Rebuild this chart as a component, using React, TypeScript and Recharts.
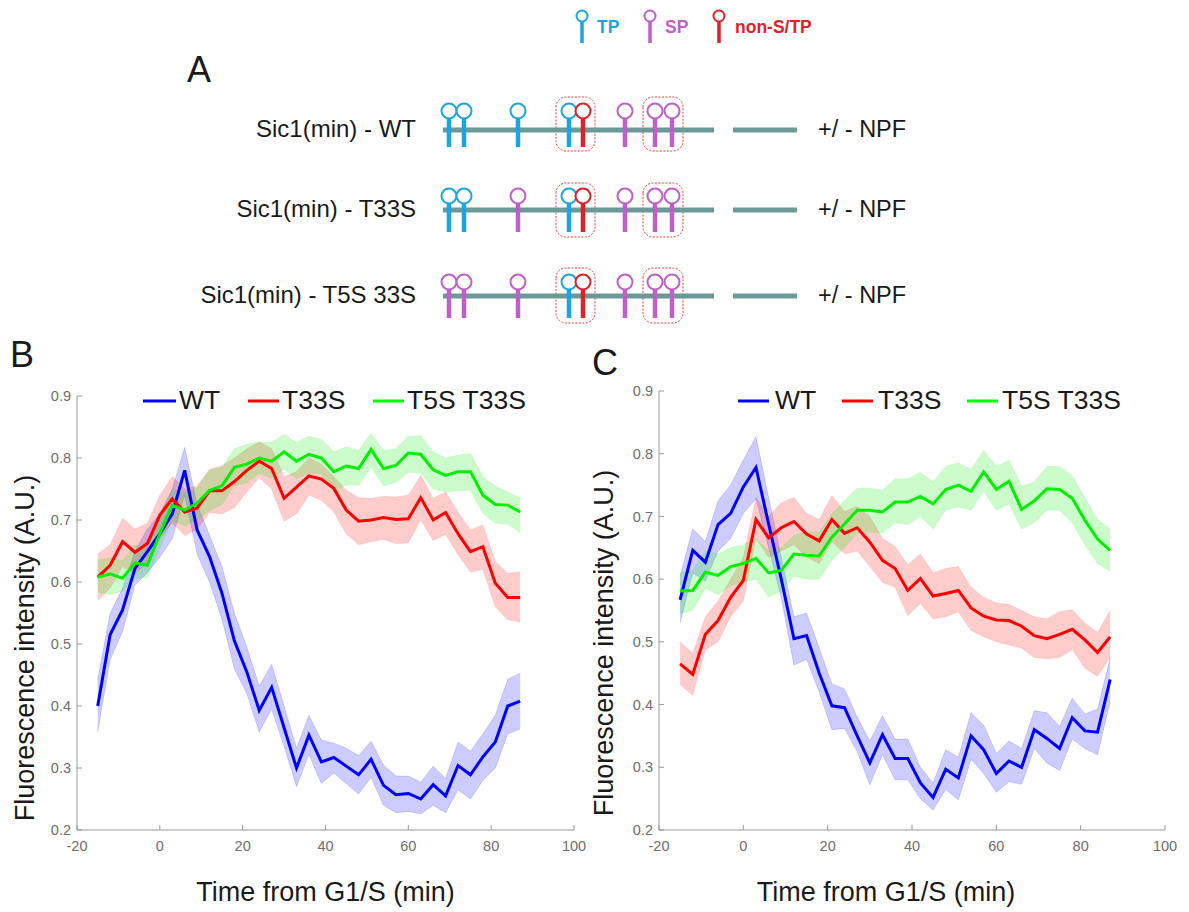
import React from "react";
import { ComposedChart, ScatterChart, Scatter, Line, Area, XAxis, YAxis, Legend, ReferenceLine, ReferenceArea } from "recharts";

const times = [-15,-12,-9,-6,-3,0,3,6,9,12,15,18,21,24,27,30,33,36,39,42,45,48,51,54,57,60,63,66,69,72,75,78,81,84,87];
const xTicks = [-20,0,20,40,60,80,100];
const yTicks = [0.2,0.3,0.4,0.5,0.6,0.7,0.8,0.9];

// Panel B
const bWt = [.40,.515,.555,.622,.649,.678,.71,.78,.684,.641,.582,.505,.455,.393,.43,.365,.30,.353,.31,.317,.303,.289,.314,.272,.257,.259,.25,.273,.255,.304,.289,.318,.342,.40,.408];
const bWtLo = [.358,.475,.52,.595,.615,.64,.67,.74,.645,.60,.54,.46,.42,.358,.395,.335,.27,.322,.275,.292,.275,.258,.285,.24,.228,.23,.226,.24,.228,.265,.25,.28,.30,.355,.363];
const bWtHi = [.442,.55,.59,.65,.685,.71,.75,.817,.725,.675,.625,.55,.495,.432,.467,.40,.332,.385,.345,.34,.332,.32,.343,.305,.287,.287,.277,.303,.283,.342,.327,.355,.385,.443,.453];
const bRed = [.608,.627,.665,.648,.662,.708,.734,.713,.719,.747,.747,.762,.78,.795,.783,.735,.753,.771,.766,.751,.716,.698,.70,.704,.701,.702,.736,.70,.712,.678,.649,.657,.598,.575,.575];
const bRedLo = [.57,.59,.625,.615,.63,.67,.695,.675,.685,.712,.71,.72,.745,.768,.75,.698,.71,.74,.732,.713,.678,.66,.665,.669,.662,.663,.70,.667,.677,.644,.616,.62,.56,.539,.535];
const bRedHi = [.645,.66,.703,.685,.695,.74,.77,.75,.755,.782,.787,.80,.815,.826,.815,.77,.778,.80,.79,.77,.748,.736,.735,.738,.737,.74,.772,.735,.745,.713,.684,.692,.633,.614,.616];
const bGreen = [.608,.613,.606,.631,.627,.678,.724,.716,.727,.748,.755,.785,.79,.80,.795,.81,.795,.806,.80,.778,.787,.783,.814,.783,.788,.808,.806,.781,.772,.778,.778,.74,.725,.724,.713];
const bGreenLo = [.583,.58,.585,.607,.607,.655,.70,.69,.70,.715,.725,.755,.76,.775,.767,.782,.767,.775,.775,.745,.757,.756,.785,.755,.76,.777,.776,.75,.745,.747,.748,.71,.695,.693,.68];
const bGreenHi = [.635,.64,.635,.66,.655,.705,.75,.745,.752,.78,.785,.815,.822,.826,.825,.838,.825,.835,.83,.81,.818,.812,.84,.812,.815,.835,.836,.81,.80,.805,.807,.77,.755,.745,.735];

// Panel C
const cWt = [.567,.646,.627,.687,.705,.747,.778,.688,.60,.505,.51,.45,.398,.395,.35,.307,.352,.314,.314,.275,.252,.297,.283,.35,.328,.29,.31,.30,.36,.346,.33,.379,.358,.356,.44];
const cWtLo = [.53,.61,.597,.645,.665,.705,.728,.65,.57,.463,.472,.42,.36,.362,.325,.272,.32,.28,.28,.25,.232,.265,.248,.313,.29,.26,.277,.273,.33,.307,.295,.345,.33,.32,.405];
const cWtHi = [.605,.68,.66,.725,.75,.79,.827,.73,.635,.54,.546,.49,.433,.425,.38,.342,.382,.345,.345,.30,.275,.328,.316,.387,.367,.322,.342,.33,.39,.387,.365,.41,.385,.393,.475];
const cRed = [.465,.448,.512,.534,.571,.598,.695,.666,.682,.692,.672,.661,.695,.673,.682,.659,.63,.617,.582,.601,.573,.577,.582,.554,.541,.535,.534,.525,.51,.505,.512,.52,.503,.483,.508];
const cRedLo = [.432,.415,.487,.50,.54,.565,.665,.635,.645,.655,.635,.625,.66,.64,.645,.62,.595,.587,.542,.561,.537,.54,.548,.518,.508,.50,.495,.49,.475,.473,.475,.488,.458,.445,.475];
const cRedHi = [.50,.482,.54,.565,.60,.635,.73,.70,.722,.73,.705,.695,.733,.708,.716,.70,.665,.652,.623,.64,.61,.617,.62,.587,.571,.562,.56,.55,.54,.537,.548,.551,.53,.515,.55];
const cGreen = [.581,.582,.611,.606,.62,.625,.633,.61,.614,.64,.638,.637,.667,.688,.71,.71,.707,.723,.723,.732,.72,.743,.75,.74,.771,.743,.756,.711,.725,.744,.743,.729,.694,.664,.646];
const cGreenLo = [.545,.55,.585,.575,.59,.595,.60,.572,.58,.605,.60,.60,.63,.65,.673,.675,.673,.69,.687,.70,.68,.71,.715,.71,.74,.71,.72,.68,.69,.71,.71,.69,.655,.625,.612];
const cGreenHi = [.61,.613,.645,.64,.65,.655,.665,.645,.65,.67,.675,.675,.705,.725,.745,.745,.742,.76,.76,.77,.755,.78,.785,.775,.805,.78,.79,.748,.755,.78,.78,.765,.73,.695,.68];

// Panel A schematic: site positions along the construct, one lane per construct
const laneNames = ["Sic1(min) - WT", "Sic1(min) - T33S", "Sic1(min) - T5S 33S"];
const trackLanes = [130, 210, 296];
const headLanes = [111, 196, 282];
const boxTops = [97, 183, 268];
const boxBottoms = [151, 237, 323];
const sites = [449, 464, 518, 569, 583, 625, 655, 672];
const laneTypes = [
  ["TP","TP","TP","TP","non","SP","SP","SP"],
  ["TP","TP","SP","TP","non","SP","SP","SP"],
  ["SP","SP","SP","TP","non","SP","SP","SP"],
];
const keySites = [{ x: 582, y: 16 }];
const keySP = [{ x: 650, y: 16 }];
const keyNon = [{ x: 719, y: 16 }];

const BLUE = "#0000ff", RED = "#ff0000", GREEN = "#00f000";
const TP = "#1ba6e0", SP = "#bf5fc8", NON = "#e01f26";
const FONT = "'Liberation Sans', Arial, sans-serif";

const rows = (m: number[], lo: number[], hi: number[], m2: number[], lo2: number[], hi2: number[], m3: number[], lo3: number[], hi3: number[]) =>
  times.map((t, i) => ({ t, wt: m[i], wtB: [lo[i], hi[i]], red: m2[i], redB: [lo2[i], hi2[i]], green: m3[i], greenB: [lo3[i], hi3[i]] }));

const dataB = rows(bWt, bWtLo, bWtHi, bRed, bRedLo, bRedHi, bGreen, bGreenLo, bGreenHi);
const dataC = rows(cWt, cWtLo, cWtHi, cRed, cRedLo, cRedHi, cGreen, cGreenLo, cGreenHi);

const Txt = ({ x, y, size, children, anchor = "left", color = "#1a1a1a", bold = false, rotate = false }: any) => (
  <div style={{
    position: "absolute", left: x, top: y, fontFamily: FONT, fontSize: size, color, fontWeight: bold ? 700 : 400,
    lineHeight: 1, whiteSpace: "nowrap",
    transform: `translate(${anchor === "right" ? "-100%" : anchor === "center" ? "-50%" : "0"}, -50%)${rotate ? " rotate(-90deg)" : ""}`,
  }}>{children}</div>
);

const LegendBody = ({ payload, items }: any) => {
  const lines = (payload || []).filter((p: any) => p.type !== "none" && items[p.value]);
  return (
    <div style={{ position: "relative", height: 30 }}>
      {lines.map((p: any) => {
        const it = items[p.value];
        return (
          <React.Fragment key={p.value}>
            <svg style={{ position: "absolute", left: it.line, top: 0 }} width={it.w} height={12}>
              <line x1={0} x2={it.w} y1={6} y2={6} stroke={it.color} strokeWidth={3} />
            </svg>
            <span style={{ position: "absolute", left: it.text, top: -8, fontFamily: FONT, fontSize: 26.5, lineHeight: "26px", color: "#1a1a1a", whiteSpace: "nowrap" }}>{p.value}</span>
          </React.Fragment>
        );
      })}
    </div>
  );
};

const Panel = ({ data, left, top, width, height, margin, legendItems, legendLeft, legendTop, labelDx }: any) => (
  <div style={{ position: "absolute", left, top }}>
    <ComposedChart width={width} height={height} data={data} margin={margin}>
      <XAxis dataKey="t" type="number" domain={[-20, 100]} ticks={xTicks} interval={0} stroke="#9a9a9a"
        tick={{ fill: "#6e6e6e", fontSize: 14.5, fontFamily: FONT }} tickSize={-5} tickMargin={16} height={30}
        label={{ value: "Time from G1/S (min)", position: "bottom", offset: 22, dx: labelDx, fill: "#1a1a1a", fontSize: 27, fontFamily: FONT }} />
      <YAxis type="number" domain={[0.2, 0.9]} ticks={yTicks} interval={0} stroke="#9a9a9a" width={60}
        tickFormatter={(v: number) => v.toFixed(1)}
        tick={{ fill: "#6e6e6e", fontSize: 14.5, fontFamily: FONT }} tickSize={-5} tickMargin={11} />
      <Legend wrapperStyle={{ position: "absolute", left: legendLeft, top: legendTop, width: 500, height: 30, margin: 0 }}
        content={(p: any) => <LegendBody {...p} items={legendItems} />} />
      <Area dataKey="wtB" type="linear" fill={BLUE} fillOpacity={0.2} stroke={BLUE} strokeOpacity={0.15} strokeWidth={1} dot={false} activeDot={false} legendType="none" isAnimationActive={false} />
      <Line dataKey="wt" name="WT" type="linear" stroke={BLUE} strokeWidth={3} dot={false} activeDot={false} isAnimationActive={false} />
      <Area dataKey="redB" type="linear" fill={RED} fillOpacity={0.2} stroke={RED} strokeOpacity={0.1} strokeWidth={1} dot={false} activeDot={false} legendType="none" isAnimationActive={false} />
      <Line dataKey="red" name="T33S" type="linear" stroke={RED} strokeWidth={3} dot={false} activeDot={false} isAnimationActive={false} />
      <Area dataKey="greenB" type="linear" fill={GREEN} fillOpacity={0.2} stroke={GREEN} strokeOpacity={0.1} strokeWidth={1} dot={false} activeDot={false} legendType="none" isAnimationActive={false} />
      <Line dataKey="green" name="T5S T33S" type="linear" stroke={GREEN} strokeWidth={3} dot={false} activeDot={false} isAnimationActive={false} />
    </ComposedChart>
  </div>
);

const pin = (color: string, r: number, len: number, sw: number, stem: number) => (props: any) => {
  const { cx, cy } = props;
  return (
    <g>
      <line x1={cx} x2={cx} y1={cy + r} y2={cy + len} stroke={color} strokeWidth={stem} />
      <circle cx={cx} cy={cy} r={r} fill="#fff" fillOpacity={0.75} stroke={color} strokeWidth={sw} />
    </g>
  );
};

const sitesOf = (type: string) =>
  laneTypes.flatMap((lane, l) => lane.map((k, i) => ({ k, x: sites[i], y: headLanes[l] })).filter((s) => s.k === type));

const pinTP = pin(TP, 7.5, 36, 2, 4.5);
const pinSP = pin(SP, 7.5, 36, 2, 4.5);
const pinNon = pin(NON, 7.5, 36, 2, 4.5);

const DiagramA = () => (
  <div style={{ position: "absolute", left: 0, top: 0 }}>
    <ScatterChart width={1189} height={340} margin={{ top: 0, right: 0, bottom: 0, left: 0 }}>
      <XAxis type="number" dataKey="x" domain={[0, 1189]} hide />
      <YAxis type="number" dataKey="y" domain={[0, 340]} reversed hide width={0} />
      {trackLanes.map((y) => (
        <ReferenceLine key={`a${y}`} segment={[{ x: 443, y }, { x: 714, y }]} stroke="#6a9a98" strokeWidth={5} />
      ))}
      {trackLanes.map((y) => (
        <ReferenceLine key={`b${y}`} segment={[{ x: 733, y }, { x: 797, y }]} stroke="#6a9a98" strokeWidth={5} />
      ))}
      {trackLanes.map((y, i) => (
        <ReferenceArea key={`c${y}`} x1={556} x2={595} y1={boxTops[i]} y2={boxBottoms[i]} fill="none" stroke="#f03a3a" strokeWidth={1} strokeDasharray="2 1.5" radius={10} />
      ))}
      {trackLanes.map((y, i) => (
        <ReferenceArea key={`d${y}`} x1={643} x2={683} y1={boxTops[i]} y2={boxBottoms[i]} fill="none" stroke="#f03a3a" strokeWidth={1} strokeDasharray="2 1.5" radius={10} />
      ))}
      <Scatter data={sitesOf("TP")} shape={pinTP} isAnimationActive={false} />
      <Scatter data={sitesOf("SP")} shape={pinSP} isAnimationActive={false} />
      <Scatter data={sitesOf("non")} shape={pinNon} isAnimationActive={false} />
      <Scatter data={keySites} shape={pin(TP, 5.5, 27, 2, 3.5)} isAnimationActive={false} />
      <Scatter data={keySP} shape={pin(SP, 5.5, 27, 2, 3.5)} isAnimationActive={false} />
      <Scatter data={keyNon} shape={pin(NON, 5.5, 27, 2, 3.5)} isAnimationActive={false} />
    </ScatterChart>
  </div>
);

const itemsB = {
  "WT": { line: 143, w: 33, text: 179, color: BLUE },
  "T33S": { line: 248, w: 31, text: 282, color: RED },
  "T5S T33S": { line: 373, w: 31, text: 407, color: "#00ff00" },
};
const itemsC = {
  "WT": { line: 148, w: 31, text: 185, color: BLUE },
  "T33S": { line: 252, w: 31, text: 288, color: RED },
  "T5S T33S": { line: 377, w: 31, text: 412, color: "#00ff00" },
};

export default function App() {
  return (
    <div style={{ position: "absolute", left: 0, top: 0, width: 1189, height: 912, background: "#fff", overflow: "hidden" }}>
      <DiagramA />
      <Panel data={dataB} left={0} top={380} width={600} height={532} labelDx={0}
        margin={{ top: 16, right: 26, bottom: 22, left: 17 }} legendItems={itemsB} legendLeft={0} legendTop={15} />
      <Panel data={dataC} left={590} top={380} width={599} height={532} labelDx={-26}
        margin={{ top: 11, right: 24, bottom: 22, left: 9 }} legendItems={itemsC} legendLeft={0} legendTop={15} />

      <Txt x={25} y={648} size={27} anchor="center" rotate>Fluorescence intensity (A.U.)</Txt>
      <Txt x={604} y={643} size={27} anchor="center" rotate>Fluorescence intensity (A.U.)</Txt>

      <Txt x={187} y={70} size={36}>A</Txt>
      <Txt x={10} y={355} size={36}>B</Txt>
      <Txt x={592} y={363} size={36}>C</Txt>

      {laneNames.map((n, i) => <Txt key={n} x={416} y={trackLanes[i] - 1} size={24} anchor="right">{n}</Txt>)}
      {trackLanes.map((y) => <Txt key={y} x={818} y={y} size={23.5}>{"+/ - NPF"}</Txt>)}

      <Txt x={597} y={28} size={17.5} color={TP} bold>TP</Txt>
      <Txt x={665} y={28} size={17.5} color={SP} bold>SP</Txt>
      <Txt x={735} y={28} size={17.5} color={NON} bold>non-S/TP</Txt>
    </div>
  );
}
